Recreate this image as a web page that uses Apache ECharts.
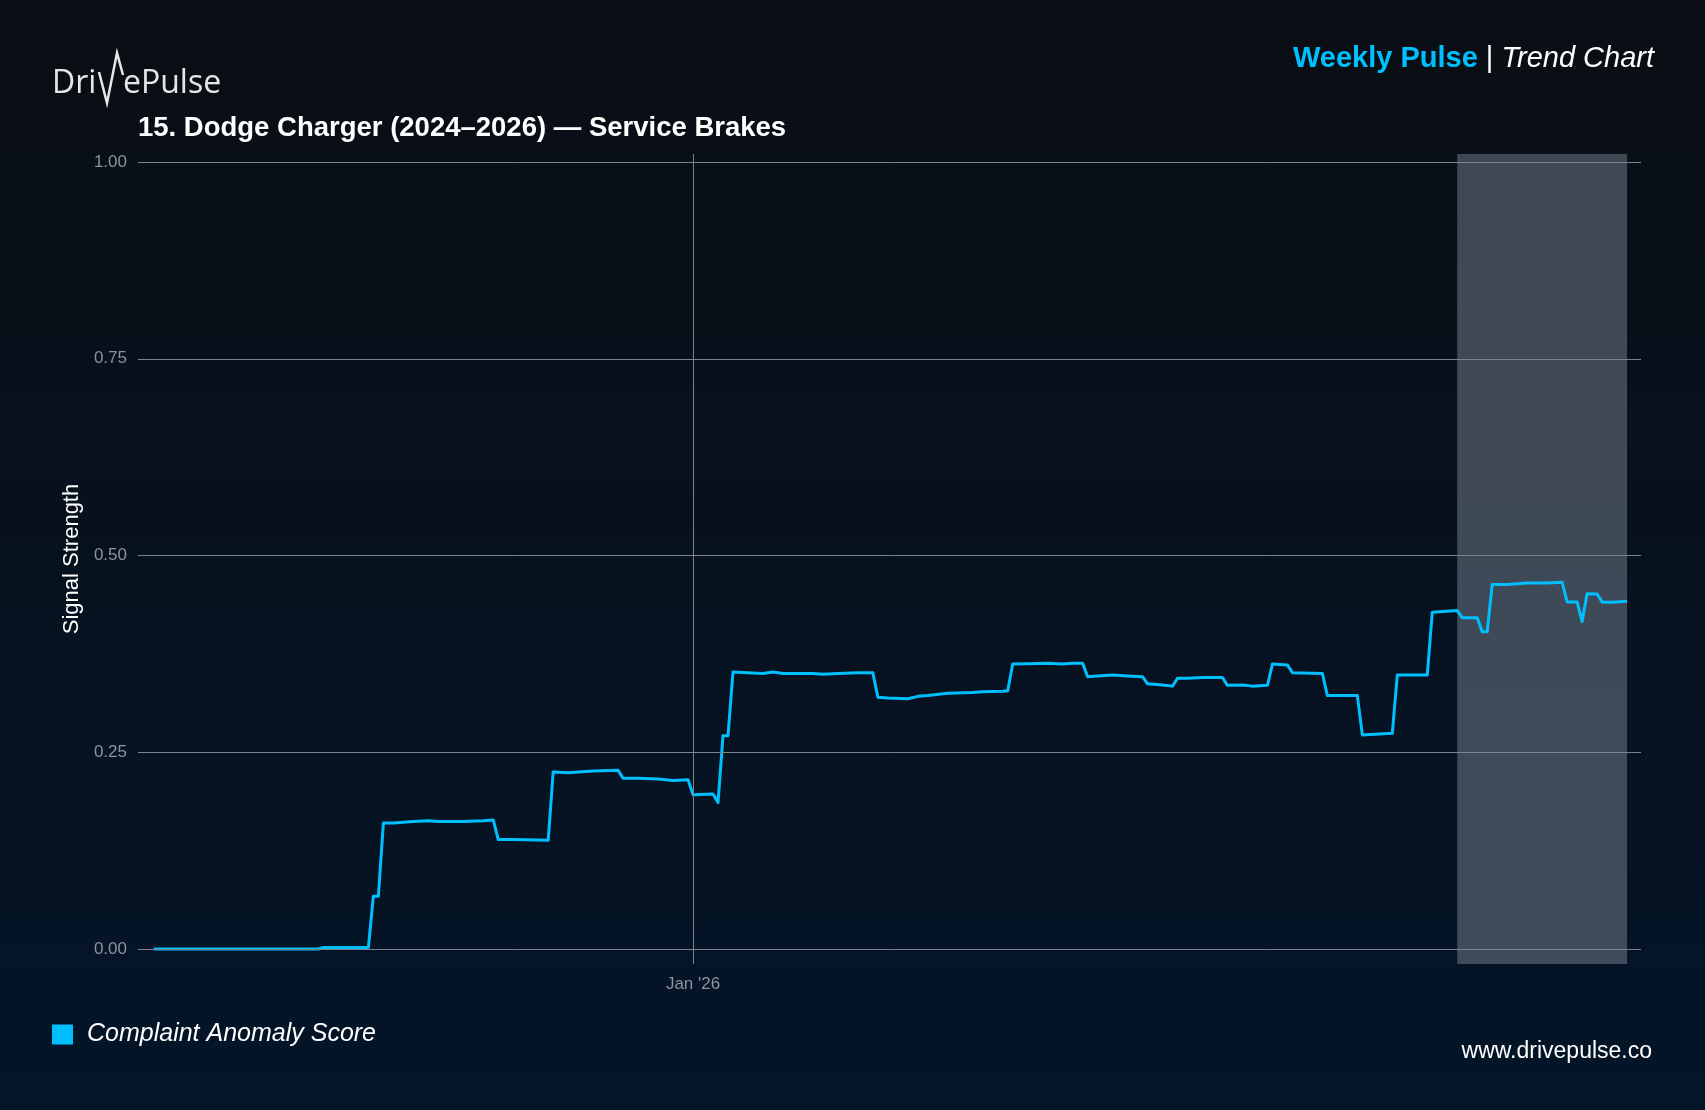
<!DOCTYPE html>
<html>
<head>
<meta charset="utf-8">
<script src="https://cdn.jsdelivr.net/npm/echarts@6/dist/echarts.min.js"></script>
<style>
html,body{margin:0;padding:0;width:1705px;height:1110px;overflow:hidden;background:#070f1c;}
#c{width:1705px;height:1110px;}
</style>
</head>
<body>
<div id="c"></div>
<script>
// ---- data ----
const dates = [
  '2025-09-15','2025-10-18','2025-10-19','2025-10-28','2025-10-29','2025-10-30','2025-10-31',
  '2025-11-02','2025-11-06','2025-11-09','2025-11-11','2025-11-16','2025-11-20','2025-11-22',
  '2025-11-23','2025-11-26','2025-12-03','2025-12-04','2025-12-07','2025-12-09','2025-12-12',
  '2025-12-17','2025-12-18','2025-12-21','2025-12-25','2025-12-28','2025-12-31','2026-01-01',
  '2026-01-05','2026-01-06','2026-01-07','2026-01-08','2026-01-09','2026-01-12','2026-01-15',
  '2026-01-17','2026-01-19','2026-01-22','2026-01-25','2026-01-27','2026-01-30','2026-02-03',
  '2026-02-06','2026-02-07','2026-02-09','2026-02-13','2026-02-15','2026-02-17','2026-02-21',
  '2026-02-26','2026-02-28','2026-03-04','2026-03-05','2026-03-06','2026-03-09','2026-03-13',
  '2026-03-16','2026-03-18','2026-03-20','2026-03-21','2026-03-23','2026-03-26','2026-03-29',
  '2026-04-01','2026-04-02','2026-04-04','2026-04-07','2026-04-08','2026-04-10','2026-04-13',
  '2026-04-17','2026-04-18','2026-04-21','2026-04-23','2026-04-26','2026-04-27','2026-04-30',
  '2026-05-01','2026-05-07','2026-05-08','2026-05-14','2026-05-15','2026-05-21','2026-05-22',
  '2026-05-28','2026-05-29','2026-06-03','2026-06-04','2026-06-07','2026-06-08','2026-06-09',
  '2026-06-10','2026-06-13','2026-06-17','2026-06-21','2026-06-24','2026-06-25','2026-06-27',
  '2026-06-28','2026-06-29','2026-07-01','2026-07-02','2026-07-04','2026-07-07'
];
const scores = [
  0.000,0.000,0.002,0.002,0.067,0.067,0.160,
  0.160,0.162,0.163,0.162,0.162,0.163,0.164,
  0.139,0.139,0.138,0.225,0.224,0.225,0.226,
  0.227,0.217,0.217,0.216,0.214,0.215,0.196,
  0.197,0.186,0.271,0.271,0.352,0.351,0.350,
  0.352,0.350,0.350,0.350,0.349,0.350,0.351,
  0.351,0.320,0.319,0.318,0.321,0.322,0.325,
  0.326,0.327,0.3275,0.328,0.362,0.3625,0.363,
  0.362,0.363,0.363,0.346,0.347,0.348,0.347,
  0.346,0.337,0.336,0.334,0.344,0.344,0.345,
  0.345,0.335,0.3355,0.334,0.335,0.362,0.361,
  0.351,0.350,0.322,0.322,0.272,0.274,0.348,
  0.348,0.428,0.430,0.421,0.421,0.403,0.403,
  0.463,0.463,0.465,0.465,0.466,0.441,0.441,
  0.416,0.4515,0.451,0.441,0.4405,0.442
];
const yTicks = [0, 0.25, 0.5, 0.75, 1];
const xTickDates = ['2026-01-01'];
const xTickLabels = ["Jan '26"];
const highlightRange = ['2026-06-03', '2026-07-07'];
const seriesName = 'Complaint Anomaly Score';
const chartTitle = '15. Dodge Charger (2024\u20132026) \u2014 Service Brakes';

// ---- helpers ----
function ts(s) {
  const p = s.split(/[- :]/).map(Number);
  return new Date(p[0], p[1] - 1, p[2], p[3] || 0, p[4] || 0).getTime();
}
const points = dates.map((d, i) => [ts(d), scores[i]]);
const xTickTs = xTickDates.map(ts);

const FONT = '"Liberation Sans", Arial, Helvetica, sans-serif';
const GRID_COLOR = '#7b838e';
const TICK_COLOR = '#8b939e';
const ACCENT = '#00bfff';

const chart = echarts.init(document.getElementById('c'), null, { renderer: 'canvas' });
chart.setOption({
  animation: false,
  backgroundColor: {
    type: 'linear', x: 0, y: 0, x2: 0, y2: 1,
    colorStops: [{ offset: 0, color: '#0a0e14' }, { offset: 1, color: '#041529' }]
  },
  textStyle: { fontFamily: FONT },
  title: {
    text: chartTitle,
    left: 138,
    top: 114.5,
    padding: 0,
    textStyle: { color: '#ffffff', fontSize: 27.5, fontWeight: 'bold', fontFamily: FONT, lineHeight: 28 }
  },
  legend: {
    data: [seriesName],
    left: 52,
    top: 1022,
    padding: 0,
    icon: 'rect',
    itemWidth: 21,
    itemHeight: 20,
    selectedMode: false,
    textStyle: { color: '#ffffff', fontSize: 25, fontStyle: 'italic', fontFamily: FONT, padding: [0, 0, 0, 9] }
  },
  grid: { left: 138, right: 64, top: 154, bottom: 146, containLabel: false },
  xAxis: {
    type: 'time',
    min: ts('2025-09-11 21:00'),
    max: ts('2026-07-09 19:00'),
    axisLine: { show: false },
    axisTick: { show: false },
    splitLine: { show: false },
    axisLabel: {
      formatter: function (v) {
        const t = typeof v === 'object' ? +v : v;
        const i = xTickTs.indexOf(t);
        return i >= 0 ? xTickLabels[i] : '';
      },
      hideOverlap: false,
      color: TICK_COLOR,
      fontSize: 17,
      margin: 12,
      fontFamily: FONT
    }
  },
  yAxis: {
    type: 'value',
    min: -0.0191,
    max: 1.0102,
    name: 'Signal Strength',
    nameLocation: 'middle',
    nameGap: 49,
    nameTextStyle: { color: '#ffffff', fontSize: 22, fontFamily: FONT },
    axisLine: { show: false },
    axisTick: { show: false },
    splitLine: { show: false },
    axisLabel: {
      customValues: yTicks,
      formatter: v => v.toFixed(2),
      color: TICK_COLOR,
      fontSize: 17,
      margin: 11,
      fontFamily: FONT
    }
  },
  series: [
    {
      name: 'gridlines',
      type: 'line',
      data: [],
      silent: true,
      z: 1,
      markLine: {
        silent: true,
        symbol: 'none',
        label: { show: false },
        lineStyle: { color: GRID_COLOR, width: 1, type: 'solid', opacity: 1 },
        emphasis: { disabled: true },
        data: yTicks.map(v => ({ yAxis: v })).concat(xTickTs.map(t => ({ xAxis: t })))
      }
    },
    {
      name: seriesName,
      type: 'line',
      data: points,
      showSymbol: false,
      symbol: 'none',
      z: 2,
      lineStyle: { color: ACCENT, width: 3, join: 'round' },
      itemStyle: { color: ACCENT }
    },
    {
      name: 'highlight',
      type: 'line',
      data: [],
      silent: true,
      z: 3,
      markArea: {
        silent: true,
        itemStyle: { color: 'rgba(170,180,195,0.35)' },
        data: [[{ xAxis: ts(highlightRange[0]) }, { xAxis: ts(highlightRange[1]) }]]
      }
    }
  ],
  graphic: [
    { type: 'text', left: 52, top: 68, style: { text: 'Dri', fill: '#e6e6e6', font: '32px "Open Sans", sans-serif' } },
    { type: 'polyline', shape: { points: [[99, 72], [107, 103], [117, 53], [123, 75]] },
      style: { stroke: '#e6e6e6', lineWidth: 2.5, fill: null, lineJoin: 'miter' } },
    { type: 'text', left: 123, top: 68, style: { text: 'ePulse', fill: '#e6e6e6', font: '32px "Open Sans", sans-serif' } },
    {
      type: 'text', right: 1705 - 1654, top: 44,
      style: {
        text: '{a|Weekly Pulse}{b| | }{c|Trend Chart}',
        rich: {
          a: { fill: ACCENT, fontSize: 29, fontWeight: 'bold', fontFamily: FONT, lineHeight: 34 },
          b: { fill: '#ffffff', fontSize: 29, fontFamily: FONT, lineHeight: 34 },
          c: { fill: '#ffffff', fontSize: 29, fontStyle: 'italic', fontFamily: FONT, lineHeight: 34 }
        }
      }
    },
    { type: 'text', right: 1705 - 1652, top: 1039, style: { text: 'www.drivepulse.co', fill: '#ffffff', fontSize: 23, fontFamily: FONT, lineHeight: 26 } }
  ]
});
</script>
</body>
</html>
